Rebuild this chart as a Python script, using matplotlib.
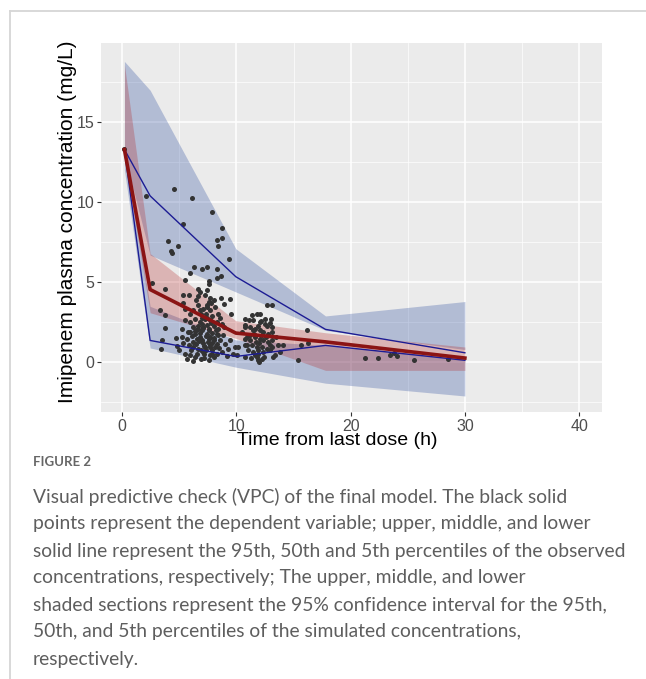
import matplotlib
matplotlib.use("Agg")
import matplotlib.pyplot as plt
from matplotlib.lines import Line2D
from matplotlib.ticker import MultipleLocator

# observed concentrations (time after last dose, mg/L)
obs_time = [
    0.2, 2.1, 4.58, 6.1, 7.85, 5.3, 8.72, 8.34, 8.72, 8.43, 4.05, 4.93, 4.29, 4.35, 9.37,
    6.3, 6.97, 7.41, 8.29, 5.95, 8.64, 8.34, 5.51, 7.61, 7.56, 2.6, 3.76, 6.6, 6.83, 7.41,
    5.37, 5.86, 6.68, 7.26, 7.7, 8.67, 9.45,
    6.48, 7.56, 8.0, 8.93, 3.33, 3.76, 5.31, 5.51, 5.95, 6.68, 6.83, 7.12, 7.41, 7.7,
    8.14, 8.43, 9.51, 5.51, 5.95, 6.39, 6.83, 7.26, 7.7, 8.29, 8.72, 3.76, 6.68, 7.12,
    7.56, 8.0, 8.43, 5.95, 6.39, 6.83, 7.41, 7.85, 8.29, 8.87, 5.22, 5.66, 6.54, 6.97,
    7.56, 8.0, 8.58, 3.47, 3.39, 9.01, 9.3, 9.89, 10.77, 10.91, 10.77, 11.06, 5.81, 6.24,
    6.68, 7.26, 7.7, 8.14, 5.51, 5.95, 6.54, 7.12, 7.7, 8.29, 8.72, 5.66, 6.39, 7.56,
    8.0, 9.16, 10.04,
    6.9, 7.3, 7.9, 6.6, 7.0, 7.4, 7.8, 8.2, 6.2, 6.5, 7.0, 7.3, 7.7, 6.8, 6.2, 7.1, 7.5,
    7.9, 8.3, 6.5, 6.9, 7.3, 7.9, 6.0, 8.5, 7.2, 6.9, 6.2, 7.4, 7.8, 6.2, 8.6, 8.9, 9.4,
    9.7, 5.3, 5.0, 4.8, 5.2, 4.7,
    7.05, 7.6, 6.4, 8.05, 6.75, 7.15, 7.65, 6.1, 8.4, 6.95, 7.45, 5.75, 7.2, 7.85,
    12.66, 13.1, 10.77, 11.35, 11.79, 12.08, 11.49, 12.08, 12.52, 12.95, 13.1, 10.77,
    11.2, 11.64, 12.08, 12.37, 12.8, 13.1, 16.22, 10.77, 11.2, 11.64, 12.08, 12.37, 12.8,
    13.1, 10.91, 11.35, 11.79, 12.23, 12.66, 13.1, 13.68, 10.18, 11.49, 11.93, 12.37,
    12.95, 13.83, 10.77, 11.79, 11.93, 12.23, 13.39, 13.24, 15.43, 15.64, 14.12, 16.3,
    11.5, 11.9, 12.5, 11.2, 12.6, 11.0, 12.0, 12.9, 11.6, 12.4, 12.0, 11.3, 13.0, 10.5, 13.5,
    11.75, 12.25, 11.45, 12.7, 11.85, 12.15,
    21.27, 22.43, 23.46, 23.8, 24.04, 25.56, 28.56,
]
obs_conc = [
    13.3, 10.4, 10.8, 10.27, 9.38, 8.67, 8.4, 7.67, 7.77, 7.27, 7.56, 7.27, 6.96, 6.86, 6.46,
    5.96, 5.85, 5.96, 5.85, 5.58, 5.38, 5.27, 5.17, 5.08, 4.88, 4.96, 4.56, 4.6, 4.4, 4.5,
    4.19, 4.19, 4.12, 4.19, 4.04, 4.04, 3.98,
    3.88, 3.77, 3.88, 3.63, 3.25, 2.94, 3.71, 3.35, 3.04, 3.56, 3.25, 3.35, 3.46, 3.25,
    3.46, 3.04, 3.04, 2.63, 2.52, 2.73, 2.52, 2.73, 2.63, 2.52, 2.42, 2.17, 2.1, 2.2,
    2.1, 2.3, 2.1, 1.9, 1.8, 1.83, 1.8, 1.83, 1.8, 1.69, 1.58, 1.48, 1.48, 1.38,
    1.48, 1.38, 1.38, 1.38, 0.85, 1.17, 0.85, 0.96, 1.06, 1.58, 2.2, 2.63, 1.06, 0.96,
    0.85, 0.96, 1.06, 0.96, 0.54, 0.44, 0.54, 0.65, 0.44, 0.54, 0.65, 0.23, 0.33, 0.13,
    0.33, 0.38, 0.44,
    3.0, 3.0, 2.9, 2.3, 2.4, 2.35, 2.45, 2.0, 2.2, 2.0, 2.0, 1.65, 1.6, 1.6, 1.3, 1.2, 1.25,
    1.2, 1.15, 1.15, 0.75, 0.8, 0.75, 0.75, 0.9, 0.3, 0.2, 0.1, 3.6, 3.7, 3.3, 2.8, 2.2, 1.4,
    0.5, 1.2, 0.8, 1.0, 2.1, 1.5,
    2.15, 2.05, 1.95, 1.55, 1.35, 1.0, 0.95, 1.65, 1.7, 2.75, 2.8, 1.9, 0.55, 0.55,
    3.56, 3.56, 2.73, 2.94, 3.04, 3.04, 2.63, 2.52, 2.42, 2.46, 2.2, 2.31,
    2.2, 2.1, 2.0, 1.9, 1.8, 1.9, 2.04, 1.48, 1.38, 1.58, 1.48, 1.38, 1.27,
    1.38, 1.06, 1.06, 0.96, 0.96, 0.85, 0.96, 1.06, 0.96, 0.65, 0.75, 0.65,
    0.75, 0.65, 0.33, 0.33, 0.13, 0.23, 0.44, 0.33, 0.13, 1.06, 1.06, 1.23,
    1.8, 2.3, 2.7, 1.7, 1.6, 0.8, 1.2, 1.1, 0.45, 0.35, 0.05, 0.25, 2.7, 1.9, 1.6,
    1.25, 1.7, 2.05, 2.25, 0.55, 2.6,
    0.27, 0.27, 0.48, 0.58, 0.38, 0.13, 0.21,
]

# VPC bins
bin_time = [0.2, 2.45, 9.95, 17.8, 30.0]

# observed percentiles
p95_obs = [13.3, 10.4, 5.35, 2.06, 0.6]
p50_obs = [13.3, 4.55, 1.83, 1.28, 0.27]
p05_obs = [13.3, 1.37, 0.37, 1.06, 0.13]

# 95% CI of simulated percentiles
ci95_lo = [13.0, 6.7, 4.4, 2.0, 0.8]
ci95_hi = [18.8, 17.0, 7.1, 2.9, 3.8]
ci50_lo = [12.8, 3.1, 1.5, -0.5, -0.5]
ci50_hi = [18.6, 6.8, 2.6, 1.85, 0.96]
ci05_lo = [12.0, 0.9, -0.3, -1.3, -2.1]
ci05_hi = [13.5, 3.5, 1.4, 1.06, 0.25]

caption_head = "FIGURE 2"
caption_lines = [
    "Visual predictive check (VPC) of the final model. The black solid",
    "points represent the dependent variable; upper, middle, and lower",
    "solid line represent the 95th, 50th and 5th percentiles of the observed",
    "concentrations, respectively; The upper, middle, and lower",
    "shaded sections represent the 95% confidence interval for the 95th,",
    "50th, and 5th percentiles of the simulated concentrations,",
    "respectively.",
]

W, H = 646, 679
fig = plt.figure(figsize=(W / 100, H / 100), dpi=100)
fig.patch.set_facecolor("white")

# card border
fig.add_artist(Line2D([9.5 / W, 9.5 / W], [0, 1 - 10.5 / H], transform=fig.transFigure,
                      color="#d6d6d6", lw=1.3))
fig.add_artist(Line2D([9.5 / W, 1], [1 - 10.5 / H, 1 - 10.5 / H], transform=fig.transFigure,
                      color="#d6d6d6", lw=1.3))

ax = fig.add_axes([101 / W, 1 - 412 / H, 501 / W, 369 / H])
ax.set_facecolor("#EBEBEB")
for s in ax.spines.values():
    s.set_visible(False)

ax.set_xlim(-1.85, 42.0)
ax.set_ylim(-3.1, 19.95)
ax.xaxis.set_major_locator(MultipleLocator(10))
ax.xaxis.set_minor_locator(MultipleLocator(5))
ax.yaxis.set_major_locator(MultipleLocator(5))
ax.yaxis.set_minor_locator(MultipleLocator(2.5))
ax.grid(which="major", color="white", lw=1.1)
ax.grid(which="minor", color="white", lw=0.5)
ax.set_axisbelow(True)

blue_fill = "#3150A0"
red_fill = "#B22222"
ax.fill_between(bin_time, ci95_lo, ci95_hi, color=blue_fill, alpha=0.3, lw=0, zorder=2)
ax.fill_between(bin_time, ci05_lo, ci05_hi, color=blue_fill, alpha=0.3, lw=0, zorder=2)
ax.fill_between(bin_time, ci50_lo, ci50_hi, color=red_fill, alpha=0.27, lw=0, zorder=2)

ax.scatter(obs_time, obs_conc, s=13, color="#333333", lw=0, zorder=3)

ax.plot(bin_time, p95_obs, color="#1C1C94", lw=1.0, zorder=4)
ax.plot(bin_time, p05_obs, color="#1C1C94", lw=1.0, zorder=4)
ax.plot(bin_time, p50_obs, color="#8B1414", lw=2.6, zorder=5)

ax.tick_params(which="major", length=3, width=0.8, color="#333333", labelcolor="#4D4D4D",
               labelsize=11.5, pad=2)
ax.tick_params(which="minor", length=0)
for lab in ax.get_xticklabels() + ax.get_yticklabels():
    lab.set_family("Liberation Sans")

ax.set_xlabel("Time from last dose (h)", fontsize=14, family="Liberation Sans")
ax.xaxis.set_label_coords((337 - 101) / 501, (412 - 441) / 369)
ax.xaxis.label.set_va("center")
ax.set_ylabel("Imipenem plasma concentration (mg/L)", fontsize=15, family="Liberation Sans")
ax.yaxis.set_label_coords((68 - 101) / 501, (412 - 222) / 369)
ax.yaxis.label.set_va("center")

fig.text(33 / W, 1 - 462 / H, caption_head, fontsize=9.5, color="#666666", family="Lato",
         weight="bold", va="center", ha="left")
line_y = [497, 524, 551, 578, 605, 632, 659]
for txt, yy in zip(caption_lines, line_y):
    fig.text(33 / W, 1 - yy / H, txt, fontsize=13.9, color="#5E5E5E", family="Lato",
             va="center", ha="left")

fig.savefig("out.png", dpi=100)
